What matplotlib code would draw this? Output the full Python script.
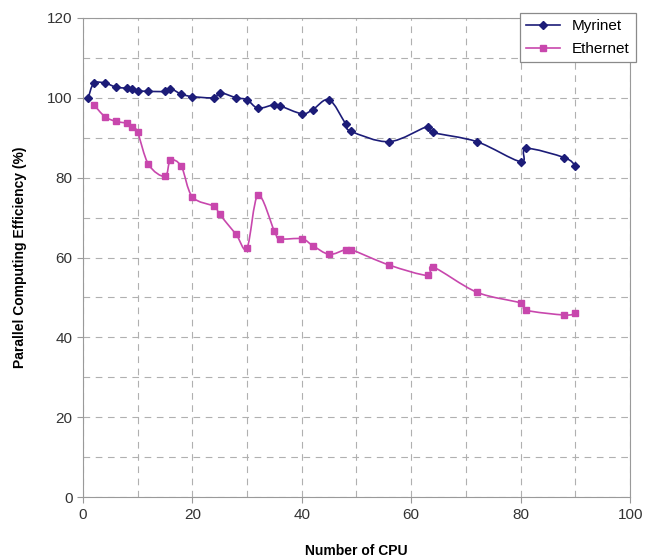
import matplotlib.pyplot as plt
from matplotlib.ticker import MultipleLocator
from matplotlib.path import Path
from matplotlib.patches import PathPatch
from matplotlib.lines import Line2D

plt.rcParams['font.family'] = ['Liberation Sans', 'DejaVu Sans']

# Myrinet series
myri_cpu = [1, 2, 4, 6, 8, 9, 10, 12, 15, 16, 18, 20, 24, 25, 28, 30, 32, 35, 36,
            40, 42, 45, 48, 49, 56, 63, 64, 72, 80, 81, 88, 90]
myri_eff = [100, 103.6, 103.7, 102.7, 102.4, 102.3, 101.8, 101.6, 101.6, 102.3, 100.9, 100.3,
            100.0, 101.3, 100.0, 99.5, 97.4, 98.3, 98.0, 96.0, 97.0, 99.5, 93.5, 91.6,
            89.0, 92.8, 91.3, 89.0, 84.0, 87.3, 85.0, 83.0]

# Ethernet series
eth_cpu = [2, 4, 6, 8, 9, 10, 12, 15, 16, 18, 20, 24, 25, 28, 30, 32, 35, 36,
           40, 42, 45, 48, 49, 56, 63, 64, 72, 80, 81, 88, 90]
eth_eff = [98.3, 95.3, 94.1, 93.6, 92.7, 91.4, 83.3, 80.3, 84.3, 82.8, 75.2, 72.8, 70.8,
           65.8, 62.4, 75.6, 66.6, 64.7, 64.7, 63.0, 60.8, 62.0, 62.0, 58.1, 55.5,
           57.6, 51.3, 48.6, 46.8, 45.6, 46.0]


def smooth_path(xs, ys):
    # Excel-style smoothed line: cubic Bezier segments (Catmull-Rom)
    pts = list(zip(xs, ys))
    n = len(pts)
    verts = [pts[0]]
    codes = [Path.MOVETO]
    for i in range(n - 1):
        p0 = pts[max(i - 1, 0)]
        p1 = pts[i]
        p2 = pts[i + 1]
        p3 = pts[min(i + 2, n - 1)]
        c1 = (p1[0] + (p2[0] - p0[0]) / 6, p1[1] + (p2[1] - p0[1]) / 6)
        c2 = (p2[0] - (p3[0] - p1[0]) / 6, p2[1] - (p3[1] - p1[1]) / 6)
        verts += [c1, c2, p2]
        codes += [Path.CURVE4] * 3
    return Path(verts, codes)


fig = plt.figure(figsize=(6.47, 5.58), dpi=100)
ax = fig.add_axes([0.128, 0.109, 0.846, 0.859])

series = [
    (myri_cpu, myri_eff, '#1c1c78', 'D', 'Myrinet'),
    (eth_cpu, eth_eff, '#c847ad', 's', 'Ethernet'),
]
handles = []
for xs, ys, col, mk, name in series:
    ax.add_patch(PathPatch(smooth_path(xs, ys), facecolor='none', edgecolor=col,
                           linewidth=1.2))
    ax.plot(xs, ys, linestyle='none', color=col, marker=mk, markersize=4.5)
    handles.append(Line2D([], [], color=col, marker=mk, markersize=4.5,
                          linewidth=1.2, label=name))

ax.set_xlim(0, 100)
ax.set_ylim(0, 120)
ax.xaxis.set_major_locator(MultipleLocator(20))
ax.yaxis.set_major_locator(MultipleLocator(20))
ax.xaxis.set_minor_locator(MultipleLocator(10))
ax.yaxis.set_minor_locator(MultipleLocator(10))
ax.grid(True, which='both', linestyle=(0, (6, 5)), color='#b0b0b0', linewidth=0.8)
ax.set_axisbelow(True)

for side in ['left', 'bottom', 'right', 'top']:
    ax.spines[side].set_color('#9a9a9a')
ax.tick_params(axis='both', which='major', labelsize=11, color='#9a9a9a',
               labelcolor='#333333', length=4, direction='out')
ax.tick_params(axis='both', which='minor', length=0)

ax.set_xlabel('Number of CPU', fontsize=10, fontweight='bold', labelpad=16)
ax.set_ylabel('Parallel Computing Efficiency (%)', fontsize=10, fontweight='bold',
              labelpad=14)

leg = ax.legend(handles=handles, loc='upper right', bbox_to_anchor=(1.01, 1.01),
                fontsize=11, fancybox=False, framealpha=1, edgecolor='#8a8a8a',
                handlelength=2.2, labelspacing=0.6, borderaxespad=0)
leg.get_frame().set_linewidth(0.9)

fig.savefig('out.png', dpi=100)
